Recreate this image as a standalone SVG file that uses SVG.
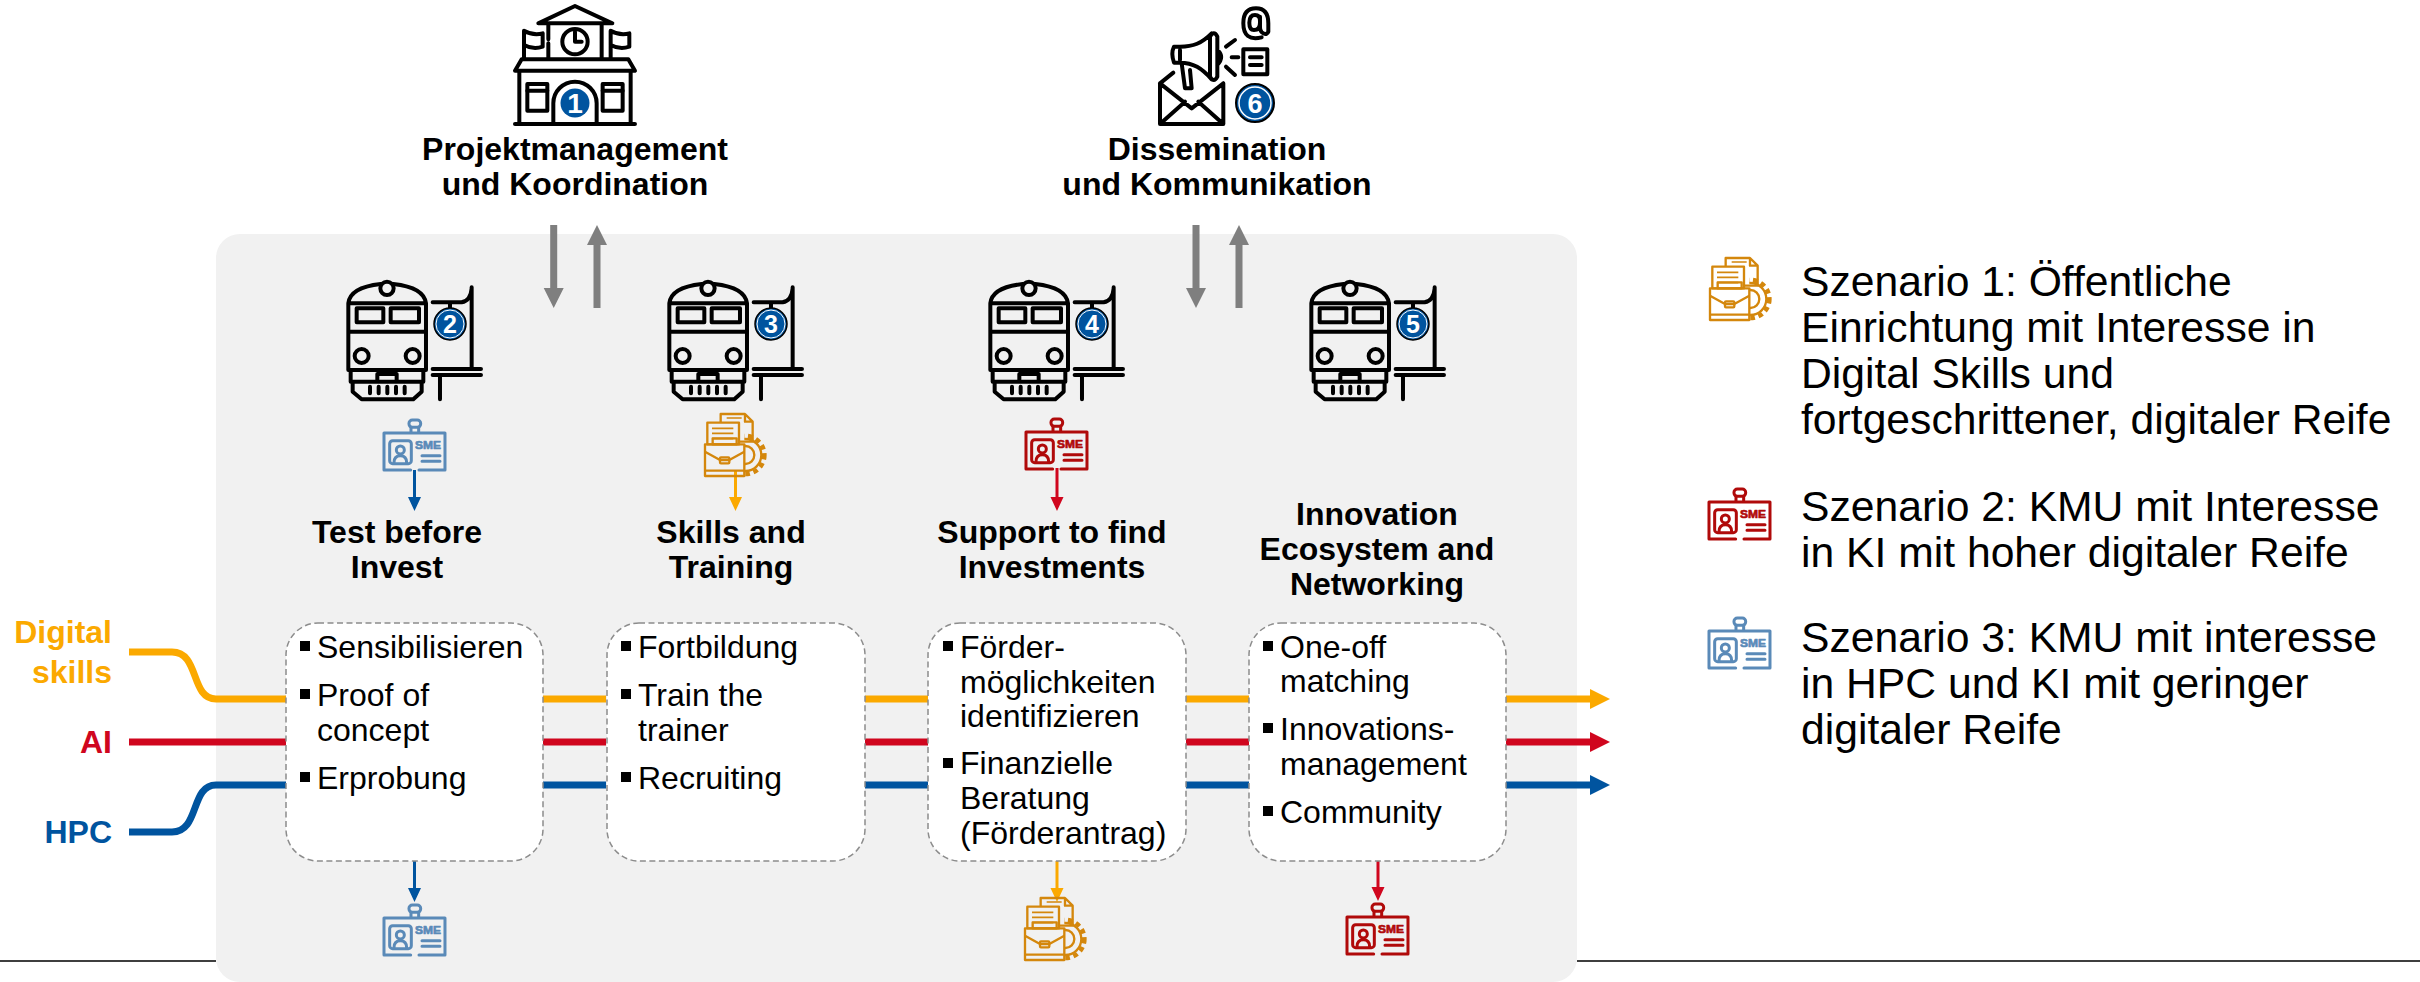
<svg xmlns="http://www.w3.org/2000/svg" width="2420" height="982" viewBox="0 0 2420 982">
<style>
text{font-family:"Liberation Sans",Arial,sans-serif;fill:#000}
.t{font-size:32px}.b{font-size:32px;font-weight:700;text-anchor:middle}
.lg{font-size:42.67px}
.s{font-size:32px;font-weight:700;text-anchor:end}
.ic{fill:none;stroke:#000;stroke-width:12;stroke-linecap:round;stroke-linejoin:round}
.nb{stroke:none;fill:#fff;font-weight:700;text-anchor:middle}
.box{fill:#fff;stroke:#8c8c8c;stroke-width:1.5;stroke-dasharray:6 3.5}
.sq{fill:#000}
.blue{stroke:#5a8ab8;fill:#5a8ab8;color:#5a8ab8}
.red{stroke:#b00a0a;fill:#b00a0a;color:#b00a0a}
.org{stroke:#d4870c;fill:#d4870c;color:#d4870c}
</style>
<defs>
<g id="train" class="ic">
<path d="M85 100Q90 52 182 42M220 42Q312 52 318 100M85 100V300H318V100M85 100H318M85 185H318M92 300V335H310V300M172 332V312H230V332M98 335V365L125 388H280L305 365V335M150 350V370M176 350V370M202 350V370M228 350V370M254 350V370"/>
<circle cx="201" cy="55" r="20"/>
<rect x="110" y="115" width="80" height="42"/><rect x="212" y="115" width="85" height="42"/>
<circle cx="125" cy="258" r="21"/><circle cx="278" cy="258" r="21"/>
<path d="M455 52V297M338 97H425Q452 92 455 55M338 297H483M338 315H483M360 315V388M390 97V118"/>
</g>
<g id="badge" style="fill:none;stroke-linecap:round;stroke-linejoin:round">
<g stroke-width="9" fill="none">
<rect x="267" y="450" width="35" height="22" rx="10"/>
<path d="M273 472V489M296 472V489M272 600H192V489H375V600H297"/>
<rect x="209" y="512" width="65" height="69" rx="9"/>
<circle cx="241" cy="540" r="12"/>
<path d="M222 578Q222 557 241 557Q260 557 260 578M306 557H360M306 574H360"/>
</g>
<text x="285" y="536" style="font-size:35px;font-weight:700;fill:currentColor;stroke:currentColor;stroke-width:2px" textLength="78" lengthAdjust="spacingAndGlyphs">SME</text>
</g>
<clipPath id="gc"><path d="M193 60H280V210H193Z"/></clipPath>
<g id="case" style="fill:none;stroke-linecap:butt;stroke-linejoin:round" stroke-width="7">
<path d="M122 38V12H195L218 35V95H177M195 12V35H218"/>
<rect x="82" y="38" width="95" height="65"/>
<path d="M96 55H160M96 70H160M96 86H160M140 24H185" stroke-width="5"/>
<rect x="98" y="85" width="72" height="18"/>
<rect x="75" y="103" width="118" height="95"/>
<path d="M75 125L120 150H148L193 125M75 182H193"/>
<rect x="120" y="142" width="28" height="18" rx="3"/>
<g clip-path="url(#gc)">
<circle cx="196" cy="135" r="27"/><circle cx="196" cy="135" r="48"/>
<circle cx="196" cy="135" r="57" stroke-width="14" stroke-dasharray="14 11"/>
</g>
</g>
</defs>

<path d="M0 961H216M1577 961H2420" stroke="#000" stroke-width="1.6" fill="none"/>
<rect id="panel" x="216" y="234" width="1361" height="748" rx="24" fill="#f1f1f1"/>

<g id="connectors" fill="none">
<g stroke-width="7">
<path stroke="#fba900" d="M129 652H172C200 652 190 699 216 699H286M543 699H606M865 699H928M1186 699H1249M1506 699H1592"/>
<path stroke="#d0061e" d="M129 742H286M543 742H606M865 742H928M1186 742H1249M1506 742H1592"/>
<path stroke="#00549f" d="M129 832H172C200 832 190 785 216 785H286M543 785H606M865 785H928M1186 785H1249M1506 785H1592"/>
</g>
<path d="M1590 689L1610 699L1590 709Z" fill="#fba900"/>
<path d="M1590 732L1610 742L1590 752Z" fill="#d0061e"/>
<path d="M1590 775L1610 785L1590 795Z" fill="#00549f"/>
<g stroke-width="7" stroke="#7f7f7f">
<path d="M553.700 225V290M1196 225V290M597 308V243M1239 308V243"/>
</g>
<path d="M543.700 288H563.700L553.700 308ZM1186 288H1206L1196 308ZM587 245H607L597 225ZM1229 245H1249L1239 225Z" fill="#7f7f7f"/>
<g stroke-width="3">
<path stroke="#00549f" d="M414.500 470V498M414.500 861V890"/>
<path stroke="#fba900" d="M735.500 470V498M1057 861V890"/>
<path stroke="#d0061e" d="M1057 468V498M1378 861V890"/>
</g>
<path d="M408 497H421L414.500 511ZM408 888H421L414.500 902Z" fill="#00549f"/>
<path d="M729 497H742L735.500 511ZM1050.500 888H1063.500L1057 902Z" fill="#fba900"/>
<path d="M1050.500 497H1063.500L1057 511ZM1371.500 887H1384.500L1378 901Z" fill="#d0061e"/>
</g>

<g id="n1-projekt">
<g class="ic" transform="translate(480 0) scale(.3333)">
<path d="M175 70L285 18L397 70ZM205 70V118M205 130V175M365 70V175M132 175V92Q160 108 188 100V140Q160 150 132 135M392 175V92Q420 108 448 100V140Q420 150 392 135M125 178H445L465 212H105ZM118 212V372M452 212V372M105 372H465M220 372V310A65 65 0 0 1 350 310V372M285 95V125H305"/>
<circle cx="285" cy="125" r="38"/>
<rect x="142" y="252" width="60" height="80"/><rect x="368" y="252" width="60" height="80"/>
<path d="M142 272H202M368 272H428"/>
</g>
<circle cx="575" cy="103" r="16" fill="#fff"/><circle cx="575" cy="103" r="14.500" fill="#00549f"/>
<text x="575" y="113" class="nb" style="font-size:28px">1</text>
<text x="575" y="160" class="b">Projektmanagement</text>
<text x="575" y="195" class="b">und Koordination</text>
</g>

<g id="n6-dissemination">
<g class="ic" transform="translate(1130 0) scale(.3333)">
<path d="M90 250V372H280V250M90 250L130 218M90 250L185 325L280 250M90 372L165 305M280 372L205 305M245 100C215 130 190 140 150 140H132Q122 160 132 188H150C190 188 215 205 245 238M240 110V230Q252 250 262 230V110Q252 90 240 110ZM262 150Q285 170 262 195M155 190L165 265H185L180 210M150 150V180M288 140L315 120M305 172H325M288 200L315 225M360 172H395M360 195H395"/>
<rect x="340" y="148" width="72" height="75"/>
<path d="M395 112Q340 125 340 70Q340 25 378 25Q415 25 415 70V95Q412 105 400 100Q390 95 390 80V50M390 68Q390 90 372 90Q358 90 358 68Q358 45 375 45Q390 45 390 62"/>
</g>
<circle cx="1255" cy="103" r="19" fill="#00549f" stroke="#000" stroke-width="2"/><circle cx="1255" cy="103" r="16" fill="#00549f" stroke="#fff" stroke-width="1.500"/>
<text x="1255" y="113" class="nb" style="font-size:27px">6</text>
<text x="1217" y="160" class="b">Dissemination</text>
<text x="1217" y="195" class="b">und Kommunikation</text>
</g>

<g id="n2-test">
<use href="#train" transform="translate(320 270) scale(.3333)"/>
<circle cx="450" cy="324" r="16" fill="#00549f" stroke="#000" stroke-width="1.500"/><circle cx="450" cy="324" r="14" fill="#00549f" stroke="#fff"/>
<text x="450" y="333" class="nb" style="font-size:25px">2</text>
<use href="#badge" class="blue" transform="translate(320 270) scale(.3333)"/>
<text x="397" y="543" class="b">Test before</text><text x="397" y="578" class="b">Invest</text>
<rect class="box" x="286" y="623" width="257" height="238" rx="32"/>
<rect class="sq" x="300" y="641" width="10" height="10"/><text x="317" y="658" class="t">Sensibilisieren</text>
<rect class="sq" x="300" y="689" width="10" height="10"/><text x="317" y="706" class="t">Proof of</text><text x="317" y="741" class="t">concept</text>
<rect class="sq" x="300" y="772" width="10" height="10"/><text x="317" y="789" class="t">Erprobung</text>
<use href="#badge" class="blue" transform="translate(320 755) scale(.3333)"/>
</g>

<g id="n3-skills">
<use href="#train" transform="translate(641 270) scale(.3333)"/>
<circle cx="771" cy="324" r="16" fill="#00549f" stroke="#000" stroke-width="1.500"/><circle cx="771" cy="324" r="14" fill="#00549f" stroke="#fff"/>
<text x="771" y="333" class="nb" style="font-size:25px">3</text>
<use href="#case" class="org" transform="translate(680 410) scale(.3333)"/>
<text x="731" y="543" class="b">Skills and</text><text x="731" y="578" class="b">Training</text>
<rect class="box" x="607" y="623" width="258" height="238" rx="32"/>
<rect class="sq" x="621" y="641" width="10" height="10"/><text x="638" y="658" class="t">Fortbildung</text>
<rect class="sq" x="621" y="689" width="10" height="10"/><text x="638" y="706" class="t">Train the</text><text x="638" y="741" class="t">trainer</text>
<rect class="sq" x="621" y="772" width="10" height="10"/><text x="638" y="789" class="t">Recruiting</text>
</g>

<g id="n4-support">
<use href="#train" transform="translate(962 270) scale(.3333)"/>
<circle cx="1092" cy="324" r="16" fill="#00549f" stroke="#000" stroke-width="1.500"/><circle cx="1092" cy="324" r="14" fill="#00549f" stroke="#fff"/>
<text x="1092" y="333" class="nb" style="font-size:25px">4</text>
<use href="#badge" class="red" transform="translate(962 269) scale(.3333)"/>
<text x="1052" y="543" class="b">Support to find</text><text x="1052" y="578" class="b">Investments</text>
<rect class="box" x="928" y="623" width="258" height="238" rx="32"/>
<rect class="sq" x="943" y="641" width="10" height="10"/><text x="960" y="658" class="t">Förder-</text><text x="960" y="693" class="t">möglichkeiten</text><text x="960" y="727" class="t">identifizieren</text>
<rect class="sq" x="943" y="758" width="10" height="10"/><text x="960" y="774" class="t">Finanzielle</text><text x="960" y="809" class="t">Beratung</text><text x="960" y="844" class="t">(Förderantrag)</text>
<use href="#case" class="org" transform="translate(1000 894) scale(.3333)"/>
</g>

<g id="n5-innovation">
<use href="#train" transform="translate(1283 270) scale(.3333)"/>
<circle cx="1413" cy="324" r="16" fill="#00549f" stroke="#000" stroke-width="1.500"/><circle cx="1413" cy="324" r="14" fill="#00549f" stroke="#fff"/>
<text x="1413" y="333" class="nb" style="font-size:25px">5</text>
<text x="1377" y="525" class="b">Innovation</text><text x="1377" y="560" class="b">Ecosystem and</text><text x="1377" y="595" class="b">Networking</text>
<rect class="box" x="1249" y="623" width="257" height="238" rx="32"/>
<rect class="sq" x="1263" y="641" width="10" height="10"/><text x="1280" y="658" class="t">One-off</text><text x="1280" y="692" class="t">matching</text>
<rect class="sq" x="1263" y="723" width="10" height="10"/><text x="1280" y="740" class="t">Innovations-</text><text x="1280" y="775" class="t">management</text>
<rect class="sq" x="1263" y="806" width="10" height="10"/><text x="1280" y="823" class="t">Community</text>
<use href="#badge" class="red" transform="translate(1283 754) scale(.3333)"/>
</g>

<g id="inputs">
<text x="112" y="643" class="s" style="fill:#fba900">Digital</text>
<text x="112" y="683" class="s" style="fill:#fba900">skills</text>
<text x="112" y="753" class="s" style="fill:#d0061e">AI</text>
<text x="112" y="843" class="s" style="fill:#00549f">HPC</text>
</g>

<g id="legend">
<use href="#case" class="org" transform="translate(1685 254) scale(.3333)"/>
<text x="1801" y="296" class="lg">Szenario 1: Öffentliche</text>
<text x="1801" y="342" class="lg">Einrichtung mit Interesse in</text>
<text x="1801" y="388" class="lg">Digital Skills und</text>
<text x="1801" y="434" class="lg">fortgeschrittener, digitaler Reife</text>
<use href="#badge" class="red" transform="translate(1645 339) scale(.3333)"/>
<text x="1801" y="521" class="lg">Szenario 2: KMU mit Interesse</text>
<text x="1801" y="567" class="lg">in KI mit hoher digitaler Reife</text>
<use href="#badge" class="blue" transform="translate(1645 468) scale(.3333)"/>
<text x="1801" y="652" class="lg">Szenario 3: KMU mit interesse</text>
<text x="1801" y="698" class="lg">in HPC und KI mit geringer</text>
<text x="1801" y="744" class="lg">digitaler Reife</text>
</g>
</svg>
